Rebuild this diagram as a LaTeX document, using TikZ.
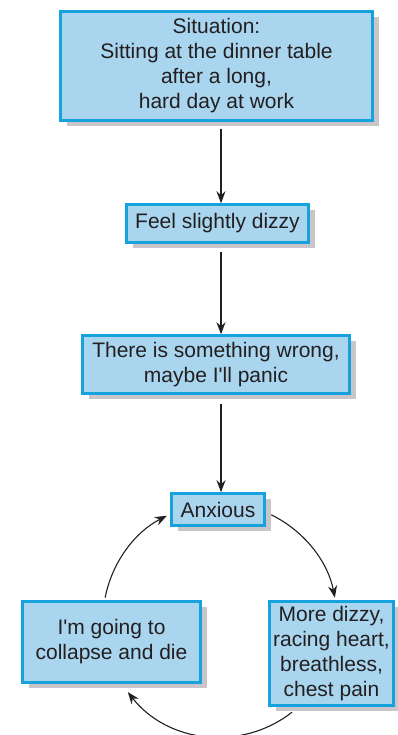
\documentclass[tikz,border=0pt]{standalone}
\usepackage{fontspec}
\setmainfont{Liberation Sans}[Ligatures=TeXOff]
\usetikzlibrary{arrows.meta,shadows,calc}
\definecolor{boxfill}{HTML}{A9D5EF}
\definecolor{boxline}{HTML}{16A3DD}
\definecolor{boxshade}{HTML}{CAC5CA}
\definecolor{ink}{HTML}{231F20}
\begin{document}
\begin{tikzpicture}[x=1pt,y=1pt,
  stepbox/.style={draw=boxline, line width=2.5pt, fill=boxfill, text=ink,
    align=center, inner sep=0pt, font=\fontsize{21}{25}\selectfont,
    drop shadow={shadow xshift=6pt, shadow yshift=-6pt, fill=boxshade, opacity=1}},
  arr/.style={draw=ink, line width=1.1pt, -{Stealth[length=12pt,width=9pt]}}]
\useasboundingbox (0,0) rectangle (397,735);

% chain of boxes
\node[stepbox, minimum width=312pt, minimum height=109pt] (sit) at (216.5,669)
  {Situation:\\Sitting at the dinner table\\after a long,\\hard day at work};
\node[stepbox, minimum width=182pt, minimum height=38pt] (dz) at (217.5,511.5)
  {Feel slightly dizzy};
\node[stepbox, minimum width=267pt, minimum height=58pt] (wrong) at (216,370.5)
  {There is something wrong,\\maybe I'll panic};
\node[stepbox, minimum width=93pt, minimum height=32pt] (anx) at (218,225.5)
  {Anxious};
\node[stepbox, minimum width=178pt, minimum height=81pt] (die) at (111.5,93)
  {I'm going to\\collapse and die};
\node[stepbox, minimum width=124pt, minimum height=104pt] (more) at (331.5,81.5)
  {More dizzy,\\racing heart,\\breathless,\\chest pain};

% vertical axis of the straight connectors
\coordinate (axis) at (221,0);
\draw[arr] ([yshift=-7pt]sit.south -| axis) -- (dz.north -| axis);
\draw[arr] ([yshift=-8pt]dz.south -| axis) -- (wrong.north -| axis);
\draw[arr] ([yshift=-9pt]wrong.south -| axis) -- (anx.north -| axis);

% the vicious circle
\coordinate (o) at (220,115);
\draw[arr] ($(o)+(64:117pt)$) arc[start angle=64, end angle=11, radius=117pt];
\draw[arr] ($(o)+(-52:117pt)$) arc[start angle=-52, end angle=-142, radius=117pt];
\draw[arr] ($(o)+(169:117pt)$) arc[start angle=169, end angle=117, radius=117pt];
\end{tikzpicture}
\end{document}
